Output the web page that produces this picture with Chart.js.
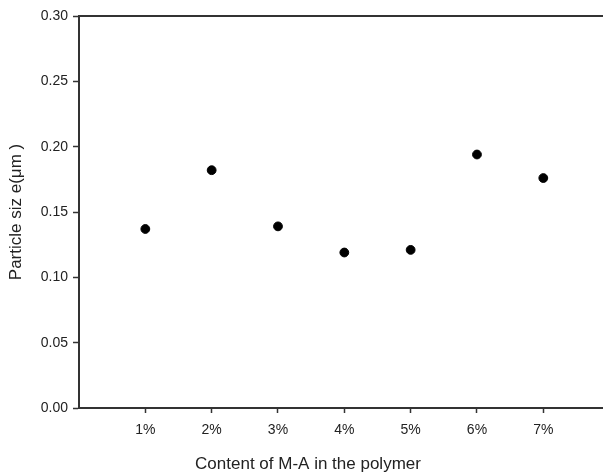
<!DOCTYPE html>
<html>
<head>
<meta charset="utf-8">
<script src="https://cdn.jsdelivr.net/npm/chart.js@4/dist/chart.umd.min.js"></script>
<style>
  html, body { margin: 0; padding: 0; background: #fff; }
  #wrap { width: 603px; height: 474px; position: relative; }
</style>
</head>
<body>
<div id="wrap"><canvas id="sizeChart"></canvas></div>
<script>
const contentLabels = ["1%", "2%", "3%", "4%", "5%", "6%", "7%"];
const particleSize = [0.137, 0.182, 0.139, 0.119, 0.121, 0.194, 0.176];
const yTicks = [0, 0.05, 0.1, 0.15, 0.2, 0.25, 0.3];

const ink = "#222";
const font = "'Liberation Sans', Arial, sans-serif";

// top frame line and the x title, which sits left of the plot centre
const framePlugin = {
  id: "frame",
  afterDraw(chart) {
    const { ctx, chartArea } = chart;
    ctx.save();
    ctx.strokeStyle = "#333";
    ctx.lineWidth = 2;
    ctx.beginPath();
    ctx.moveTo(chartArea.left - 1, chartArea.top);
    ctx.lineTo(chartArea.right, chartArea.top);
    ctx.stroke();
    ctx.fillStyle = ink;
    ctx.font = "17px " + font;
    ctx.textAlign = "center";
    ctx.textBaseline = "middle";
    ctx.fillText("Content of M-A in the polymer", 308, 464);
    ctx.restore();
  },
};

new Chart(document.getElementById("sizeChart"), {
  type: "scatter",
  data: {
    datasets: [
      {
        data: particleSize.map((v, i) => ({ x: i + 1, y: v })),
        backgroundColor: "#000",
        borderColor: "#000",
        pointRadius: 4.4,
        pointHoverRadius: 4.4,
      },
    ],
  },
  options: {
    responsive: true,
    maintainAspectRatio: false,
    animation: false,
    layout: {
      autoPadding: false,
      padding: { top: 16, right: 0, left: 0, bottom: 0 },
    },
    plugins: {
      legend: { display: false },
      tooltip: { enabled: false },
    },
    scales: {
      x: {
        type: "linear",
        min: 0,
        max: 7.9,
        afterFit(scale) {
          scale.height = 66;
          scale.paddingLeft = 0;
          scale.paddingRight = 0;
        },
        afterBuildTicks(scale) {
          scale.ticks = contentLabels.map((_, i) => ({ value: i + 1 }));
        },
        border: { display: true, color: "#333", width: 2 },
        grid: {
          drawOnChartArea: false,
          drawTicks: true,
          tickLength: 5,
          color: "#333",
          tickWidth: 1.5,
        },
        ticks: {
          color: ink,
          padding: 9,
          autoSkip: false,
          maxRotation: 0,
          font: { family: font, size: 14 },
          callback(value) {
            return contentLabels[value - 1];
          },
        },
      },
      y: {
        min: 0,
        max: 0.3,
        afterFit(scale) {
          scale.width = 79;
          scale.paddingTop = 0;
          scale.paddingBottom = 0;
        },
        afterBuildTicks(scale) {
          scale.ticks = yTicks.map((v) => ({ value: v }));
        },
        border: { display: true, color: "#333", width: 2 },
        grid: {
          drawOnChartArea: false,
          drawTicks: true,
          tickLength: 6,
          color: "#333",
          tickWidth: 1.5,
        },
        ticks: {
          color: ink,
          padding: 5,
          font: { family: font, size: 14 },
          callback(value) {
            return value.toFixed(2);
          },
        },
        title: {
          display: true,
          text: "Particle siz e(μm )",
          color: ink,
          padding: { top: 6, bottom: 0 },
          font: { family: font, size: 17 },
        },
      },
    },
  },
  plugins: [framePlugin],
});
</script>
</body>
</html>
